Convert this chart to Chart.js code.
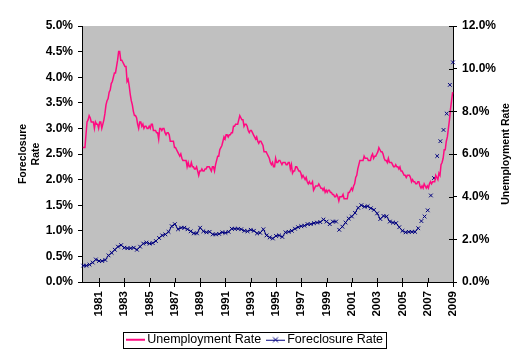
<!DOCTYPE html>
<html><head><meta charset="utf-8">
<script src="https://cdn.jsdelivr.net/npm/chart.js@4/dist/chart.umd.min.js"></script>
<style>html,body{margin:0;padding:0;background:#fff}#wrap{width:532px;height:357px}</style>
</head><body><div id="wrap"><canvas id="c" width="532" height="357"></canvas></div>
<script>
// ---- data ----
const tickYears = [1981,1983,1985,1987,1989,1991,1993,1995,1997,1999,2001,2003,2005,2007,2009];
const seriesNames = ['Unemployment Rate', 'Foreclosure Rate'];

// monthly unemployment rate (%), right axis; first month sits at axis year 1979.72
const unempStart = 1979.72;
const unemploymentRate = [
  6.3,6.3,6.3,6.9,7.5,7.6,7.8,7.7,7.5,7.5,7.5,7.2,
  7.5,7.4,7.4,7.2,7.5,7.5,7.2,7.4,7.6,7.9,8.3,8.5,
  8.6,8.9,9.0,9.3,9.4,9.6,9.8,9.8,10.1,10.4,10.8,10.8,
  10.4,10.4,10.3,10.2,10.1,10.1,9.4,9.5,9.2,8.8,8.5,8.3,
  8.0,7.8,7.8,7.7,7.4,7.2,7.5,7.5,7.3,7.4,7.2,7.3,
  7.3,7.2,7.2,7.3,7.2,7.4,7.4,7.1,7.1,7.1,7.0,7.0,
  6.7,7.2,7.2,7.1,7.2,7.2,7.0,6.9,7.0,7.0,6.9,6.6,
  6.6,6.6,6.6,6.3,6.3,6.2,6.1,6.0,5.9,6.0,5.8,5.7,
  5.7,5.7,5.7,5.4,5.6,5.4,5.4,5.6,5.4,5.4,5.3,5.3,
  5.4,5.2,5.0,5.2,5.2,5.3,5.2,5.2,5.3,5.3,5.4,5.4,
  5.4,5.3,5.2,5.4,5.4,5.2,5.5,5.7,5.9,5.9,6.2,6.3,
  6.4,6.6,6.8,6.7,6.9,6.9,6.8,6.9,6.9,7.0,7.0,7.3,
  7.3,7.4,7.4,7.4,7.6,7.8,7.7,7.6,7.6,7.3,7.4,7.4,
  7.3,7.1,7.0,7.1,7.1,7.0,6.9,6.8,6.7,6.8,6.6,6.5,
  6.6,6.6,6.5,6.4,6.1,6.1,6.1,6.0,5.9,5.8,5.6,5.5,
  5.6,5.4,5.4,5.8,5.6,5.6,5.7,5.7,5.6,5.5,5.6,5.6,
  5.6,5.5,5.5,5.6,5.6,5.3,5.5,5.1,5.2,5.2,5.4,5.4,
  5.3,5.2,5.2,5.1,4.9,5.0,4.9,4.8,4.9,4.7,4.6,4.7,
  4.6,4.6,4.7,4.3,4.4,4.5,4.5,4.5,4.6,4.5,4.4,4.4,
  4.3,4.4,4.2,4.3,4.2,4.3,4.3,4.2,4.2,4.1,4.1,4.0,
  4.0,4.1,4.0,3.8,4.0,4.0,4.0,4.1,3.9,3.9,3.9,3.9,
  4.2,4.2,4.3,4.4,4.3,4.5,4.6,4.9,5.0,5.3,5.5,5.7,
  5.7,5.7,5.7,5.9,5.8,5.8,5.8,5.7,5.7,5.7,5.9,6.0,
  5.8,5.9,5.9,6.0,6.1,6.3,6.2,6.1,6.1,6.0,5.8,5.7,
  5.7,5.6,5.8,5.6,5.6,5.6,5.5,5.4,5.4,5.5,5.4,5.4,
  5.3,5.4,5.2,5.2,5.1,5.0,5.0,4.9,5.0,5.0,5.0,4.9,
  4.7,4.8,4.7,4.7,4.6,4.6,4.7,4.7,4.5,4.4,4.5,4.4,
  4.6,4.5,4.4,4.5,4.4,4.6,4.7,4.6,4.7,4.7,4.7,5.0,
  4.9,4.8,5.1,5.0,5.5,5.6,5.8,6.2,6.2,6.6,6.8,7.2,
  7.6,8.1,8.5,8.9
];

// quarterly foreclosure rate (%), left axis; first quarter sits at axis year 1979.75
const forecStart = 1979.75;
const foreclosureRate = [
  0.32,0.32,0.34,0.38,0.44,0.41,0.41,0.43,0.52,0.57,0.63,0.69,0.72,0.67,0.66,0.66,
  0.67,0.63,0.69,0.75,0.77,0.75,0.76,0.80,0.86,0.91,0.93,0.98,1.09,1.13,1.03,1.06,
  1.06,1.03,0.99,0.95,0.95,1.06,0.99,0.97,0.98,0.93,0.93,0.94,0.97,0.96,0.98,1.04,
  1.04,1.04,1.03,1.00,0.99,1.02,1.00,0.95,0.96,1.03,0.91,0.87,0.85,0.90,0.91,0.88,
  0.97,0.98,1.00,1.04,1.07,1.09,1.10,1.13,1.13,1.15,1.16,1.17,1.22,1.18,1.13,1.18,
  1.18,1.02,1.08,1.16,1.24,1.28,1.35,1.45,1.50,1.47,1.48,1.44,1.41,1.34,1.23,1.29,
  1.28,1.18,1.16,1.15,1.07,1.00,0.97,0.98,0.98,0.98,1.05,1.19,1.28,1.40,1.69,2.03,
  2.46,2.75,2.97,3.29,3.85,4.29
];
// quarters the reference shows without a connecting line into them
const unlinkedPoints = [81];
const markersOnlyFrom = 107;

// ---- styling ----
const FONT = "'Liberation Sans', Arial, sans-serif";
const PINK = '#FF0A80';
const NAVY = '#00007F';
const LEGEND_START = 130;

function icon(kind) {
  const c = document.createElement('canvas');
  c.width = 19; c.height = 10;
  const g = c.getContext('2d');
  if (kind === 0) {
    g.fillStyle = PINK; g.fillRect(0, 4, 19, 2);
  } else {
    g.fillStyle = NAVY; g.fillRect(0, 5, 19, 1);
    g.strokeStyle = NAVY; g.lineWidth = 1;
    g.beginPath(); g.moveTo(7, 2.5); g.lineTo(12, 7.5); g.moveTo(12, 2.5); g.lineTo(7, 7.5); g.stroke();
  }
  return c;
}
const legendIcons = [icon(0), icon(1)];

const chrome = {
  id: 'chrome',
  beforeDraw(chart) {
    const a = chart.chartArea, ctx = chart.ctx;
    ctx.save(); ctx.fillStyle = '#C0C0C0';
    ctx.fillRect(a.left, a.top, a.right - a.left, a.bottom - a.top);
    ctx.restore();
  },
  afterUpdate(chart) {
    const lg = chart.legend, hb = lg.legendHitBoxes;
    if (hb && hb.length) {
      const d = LEGEND_START - hb[0].left;
      lg.left += d; lg.right += d;
      hb.forEach(h => { h.left += d; });
    }
  },
  afterDraw(chart) {
    const ctx = chart.ctx, a = chart.chartArea;
    const xs = chart.scales.x, yr = chart.scales.y1;
    ctx.save();
    ctx.strokeStyle = '#000'; ctx.lineWidth = 1;
    ctx.beginPath();
    xs.ticks.forEach(t => { const px = Math.round(xs.getPixelForValue(t.value)) + 0.5; ctx.moveTo(px, a.bottom - 4); ctx.lineTo(px, a.bottom); });
    yr.ticks.forEach(t => { const py = Math.round(yr.getPixelForValue(t.value)) + 0.5; ctx.moveTo(a.right - 4, py); ctx.lineTo(a.right, py); });
    ctx.stroke();
    // right axis title, reading bottom-to-top
    ctx.fillStyle = '#000';
    ctx.font = 'bold 10.5px ' + FONT;
    ctx.textAlign = 'center'; ctx.textBaseline = 'middle';
    ctx.translate(506.5, (a.top + a.bottom) / 2);
    ctx.rotate(-Math.PI / 2);
    ctx.fillText(seriesNames[0], 0, 0);
    ctx.restore();
    // legend frame
    const hb = chart.legend.legendHitBoxes;
    if (hb && hb.length) {
      const last = hb[hb.length - 1];
      const l = hb[0].left - 7, r = last.left + last.width + 3;
      const t = hb[0].top - 2, b = hb[0].top + hb[0].height + 1;
      ctx.save(); ctx.strokeStyle = '#000'; ctx.lineWidth = 1;
      ctx.strokeRect(Math.round(l) + 0.5, Math.round(t) + 0.5, Math.round(r - l), Math.round(b - t));
      ctx.restore();
    }
  }
};

new Chart(document.getElementById('c'), {
  type: 'line',
  data: {
    datasets: [
      {
        label: seriesNames[0],
        data: unemploymentRate.map((v, i) => ({x: unempStart + i / 12, y: v})),
        yAxisID: 'y1', borderColor: PINK, borderWidth: 1.5, pointRadius: 0, tension: 0, clip: false
      },
      {
        label: seriesNames[1],
        data: foreclosureRate.map((v, i) => ({x: forecStart + i * 0.25, y: v})),
        yAxisID: 'y', borderColor: NAVY, borderWidth: 1, tension: 0, clip: false,
        pointStyle: 'crossRot', pointRadius: 2.6, pointBorderColor: NAVY, pointBorderWidth: 1,
        pointBackgroundColor: NAVY,
        segment: {
          borderColor: ctx => (ctx.p1DataIndex >= markersOnlyFrom || unlinkedPoints.includes(ctx.p1DataIndex)) ? 'rgba(0,0,0,0)' : undefined
        }
      }
    ]
  },
  options: {
    responsive: false, animation: false, devicePixelRatio: 1,
    layout: {padding: {top: 26, bottom: 1, left: 0, right: 0}},
    plugins: {
      tooltip: {enabled: false},
      legend: {
        position: 'bottom',
        labels: {
          usePointStyle: true, pointStyleWidth: 11, boxHeight: 12, padding: 8.75,
          color: '#000', font: {family: FONT, size: 12.5},
          generateLabels: chart => chart.data.datasets.map((ds, i) => ({
            text: ds.label, pointStyle: legendIcons[i], datasetIndex: i, hidden: false,
            lineWidth: 0, strokeStyle: 'rgba(0,0,0,0)', fillStyle: 'rgba(0,0,0,0)'
          }))
        }
      }
    },
    scales: {
      x: {
        type: 'linear', position: 'bottom', min: 1979.655, max: 2009,
        afterBuildTicks: s => { s.ticks = tickYears.map(v => ({value: v})); },
        afterFit: s => { s.height = 42.75; },
        ticks: {autoSkip: false, minRotation: 90, maxRotation: 90, padding: 4, color: '#000',
          font: {family: FONT, size: 11.5, weight: 'bold'}, callback: v => String(v)},
        grid: {drawOnChartArea: false, drawTicks: true, tickLength: 5, color: '#000'},
        border: {display: true, color: '#000', width: 1}
      },
      y: {
        type: 'linear', position: 'left', min: 0, max: 5,
        afterFit: s => { s.width = 82; },
        ticks: {stepSize: 0.5, padding: 5, color: '#000', font: {family: FONT, size: 12, weight: 'bold'},
          callback: v => v.toFixed(1) + '%'},
        grid: {drawOnChartArea: false, drawTicks: true, tickLength: 4, color: '#000'},
        border: {display: true, color: '#000', width: 1},
        title: {display: true, text: ['Foreclosure', 'Rate'], color: '#000',
          font: {family: FONT, size: 10.5, weight: 'bold', lineHeight: 1.2}, padding: {top: 17.2, bottom: 0}}
      },
      y1: {
        type: 'linear', position: 'right', min: 0, max: 12,
        afterFit: s => { s.width = 79; },
        ticks: {stepSize: 2, padding: 5, color: '#000', font: {family: FONT, size: 12, weight: 'bold'},
          callback: v => v.toFixed(1) + '%'},
        grid: {drawOnChartArea: false, drawTicks: true, tickLength: 4, color: '#000'},
        border: {display: true, color: '#000', width: 1}
      }
    }
  },
  plugins: [chrome]
});
</script>
</body></html>
